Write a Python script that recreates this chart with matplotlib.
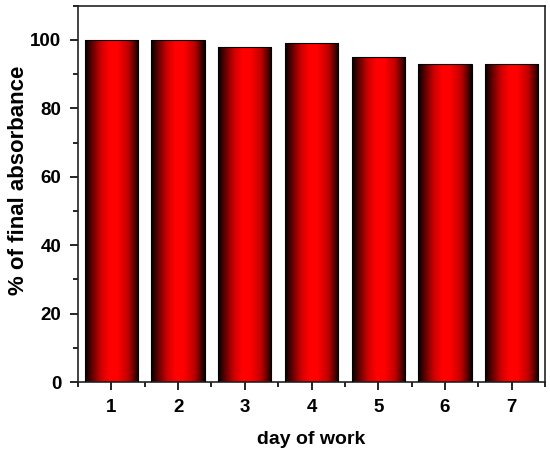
import numpy as np
import matplotlib
matplotlib.use("Agg")
import matplotlib.pyplot as plt
from matplotlib.colors import LinearSegmentedColormap
from matplotlib.patches import Rectangle
from matplotlib.ticker import MultipleLocator

days = [1, 2, 3, 4, 5, 6, 7]
values = [100, 100, 98, 99, 95, 93, 93]
xlabel = "day of work"
ylabel = "% of final absorbance"

plt.rcParams['font.family'] = ['Liberation Sans', 'DejaVu Sans']
plt.rcParams['font.weight'] = 'bold'

fig = plt.figure(figsize=(5.5, 4.53), dpi=100)
ax = fig.add_axes([0.1418, 0.1567, 0.991 - 0.1418, 0.9874 - 0.1567])

cmap = LinearSegmentedColormap.from_list(
    "bar", [(0.0, "#000000"), (0.12, "#5a0000"), (0.3, "#d00000"),
            (0.45, "#ff0000"), (0.6, "#ff0000"), (0.8, "#c00000"),
            (0.93, "#500000"), (1.0, "#000000")])
grad = np.linspace(0, 1, 256).reshape(1, -1)
width = 0.8
for d, v in zip(days, values):
    x0 = d - width / 2
    im = ax.imshow(grad, cmap=cmap, aspect='auto',
                   extent=(x0, x0 + width, 0, v), zorder=2, interpolation='bilinear')
    rect = Rectangle((x0, 0), width, v, facecolor='none', edgecolor='black',
                     linewidth=0.8, zorder=3)
    ax.add_patch(rect)
    im.set_clip_path(rect)

ax.set_xlim(0.5, 7.5)
ax.set_ylim(0, 110)
ax.set_xticks(days)
ax.xaxis.set_minor_locator(MultipleLocator(0.5))
ax.yaxis.set_major_locator(MultipleLocator(20))
ax.yaxis.set_minor_locator(MultipleLocator(10))
ax.tick_params(axis='both', which='major', direction='out', length=6, width=1.2,
               labelsize=13.5, pad=6)
ax.tick_params(axis='both', which='minor', direction='out', length=3.5, width=1.2)
for lab in ax.get_xticklabels() + ax.get_yticklabels():
    lab.set_fontweight('bold')
for s in ax.spines.values():
    s.set_linewidth(1.2)
    s.set_color('#222222')
ax.set_xlabel(xlabel, fontsize=14, fontweight='bold', labelpad=11)
ax.set_ylabel(ylabel, fontsize=16, fontweight='bold')
ax.yaxis.set_label_coords(-0.105, 0.537)

fig.savefig("out.png", dpi=100)
